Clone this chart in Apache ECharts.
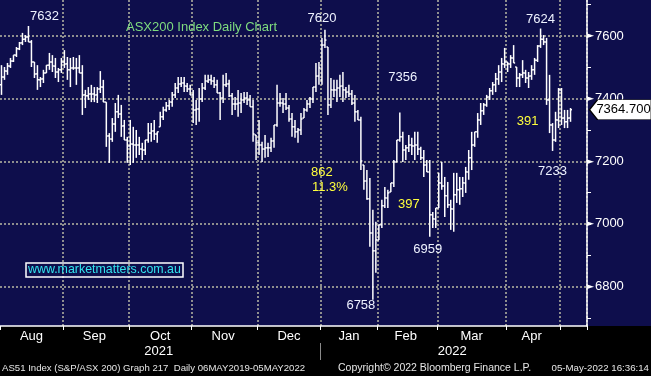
<!DOCTYPE html>
<html>
<head>
<meta charset="utf-8">
<script src="https://cdn.jsdelivr.net/npm/echarts@6/dist/echarts.min.js"></script>
<style>
html,body{margin:0;padding:0;background:#000;}
#chart{width:651px;height:376px;}
</style>
</head>
<body>
<div id="chart"></div>
<script>
// ---- Data (AS51 daily OHLC, Aug 2021 - 5 May 2022) ----
const months = ['Aug','Sep','Oct','Nov','Dec','Jan','Feb','Mar','Apr','May'];
const monthYears = ['2021','2021','2021','2021','2021','2022','2022','2022','2022','2022'];
const monthBars = [21,22,21,22,21,19,20,23,18,4];
const emptySlots = 5;

const opens = [
 7444,7469,7488,7504,7520,7539,7559,7578,7590,7597,7581,7517,7479,7460,7463,7482,7507,7517,7504,7485,7492,
 7517,7511,7492,7498,7498,7498,7482,7412,7409,7415,7415,7412,7431,7437,7389,7281,7271,7319,7358,7351,7313,7268,
 7249,7255,7252,7252,7239,7236,7268,7290,7297,7287,7310,7342,7364,7377,7389,7412,7434,7447,7450,7440,7431,
 7412,7364,7367,7399,7434,7456,7460,7456,7444,7418,7402,7444,7447,7409,7383,7383,7386,7396,7402,7396,7374,7284,
 7259,7252,7239,7243,7243,7265,7316,7386,7386,7383,7370,7335,7310,7294,7300,7338,7364,7383,7399,7437,7472,
 7460,7571,7565,7380,7428,7428,7434,7440,7428,7421,7415,7386,7358,7332,7188,7137,7080,6971,6914,
 6949,6997,7058,7083,7102,7131,7198,7268,7278,7236,7243,7252,7249,7252,7239,7211,7188,7166,7029,7016,
 7051,7131,7121,7090,7061,7048,7093,7109,7112,7131,7166,7211,7252,7294,7332,7361,7380,7405,7425,7444,7463,7485,7511,
 7517,7511,7530,7501,7466,7476,7482,7466,7472,7492,7523,7568,7590,7581,7396,7316,7268,7332,
 7428,7338,7326,7338
];
const highs = [
 7507,7501,7514,7530,7539,7565,7581,7610,7603,7632,7587,7517,7507,7469,7492,7507,7546,7539,7530,7498,7530,
 7555,7533,7530,7533,7530,7539,7507,7428,7437,7444,7437,7437,7488,7460,7389,7290,7338,7386,7412,7380,7332,7278,
 7332,7310,7300,7278,7259,7268,7322,7322,7332,7294,7358,7374,7389,7396,7421,7450,7469,7469,7469,7450,7444,
 7428,7396,7434,7450,7476,7476,7476,7469,7460,7421,7476,7482,7460,7418,7405,7428,7418,7421,7421,7412,7396,7284,
 7332,7262,7284,7259,7275,7316,7444,7418,7402,7418,7380,7354,7332,7306,7354,7370,7396,7405,7437,7514,7517,
 7594,7620,7565,7466,7460,7460,7476,7485,7437,7444,7428,7412,7364,7342,7188,7172,7147,7045,7007,
 6997,7077,7118,7109,7131,7204,7268,7356,7294,7252,7284,7275,7294,7294,7246,7236,7204,7204,7038,7051,
 7163,7198,7150,7134,7077,7163,7163,7150,7150,7182,7236,7294,7294,7354,7386,7386,7412,7434,7453,7482,7507,7530,7562,
 7517,7539,7571,7501,7482,7523,7492,7485,7507,7530,7571,7624,7603,7594,7476,7322,7358,7434,
 7434,7364,7364,7370
];
const lows = [
 7412,7460,7476,7498,7517,7533,7555,7571,7581,7581,7501,7466,7428,7437,7450,7482,7492,7485,7466,7453,7482,
 7498,7460,7437,7492,7444,7482,7348,7370,7396,7389,7389,7386,7418,7389,7246,7195,7262,7294,7338,7278,7268,7195,
 7188,7195,7211,7220,7204,7220,7259,7262,7268,7259,7310,7332,7358,7364,7374,7402,7418,7437,7421,7421,7412,
 7322,7316,7326,7389,7428,7450,7444,7434,7418,7332,7386,7437,7405,7348,7364,7342,7354,7386,7380,7374,7262,7204,
 7220,7198,7211,7214,7230,7243,7310,7374,7354,7364,7326,7278,7275,7259,7284,7338,7358,7370,7386,7421,7444,
 7444,7562,7348,7370,7405,7389,7405,7389,7402,7405,7380,7326,7332,7172,7109,7077,6927,6758,6844,
 6949,6987,7051,7051,7102,7118,7198,7262,7198,7204,7230,7220,7204,7220,7204,7150,7166,6959,6987,6987,
 7051,7109,7022,7051,6981,6975,7067,7061,7086,7099,7141,7172,7246,7275,7316,7348,7374,7396,7412,7421,7444,7453,7498,
 7485,7498,7514,7437,7437,7466,7450,7434,7460,7476,7517,7562,7571,7380,7290,7233,7262,7306,
 7316,7306,7306,7326
];
const closes = [
 7469,7488,7504,7520,7539,7559,7578,7590,7597,7581,7517,7479,7460,7463,7482,7507,7517,7504,7485,7492,7517,
 7511,7492,7498,7498,7498,7482,7412,7409,7415,7415,7412,7431,7437,7389,7281,7271,7319,7358,7351,7313,7268,7249,
 7255,7252,7252,7239,7236,7268,7290,7297,7287,7294,7342,7364,7377,7389,7412,7434,7447,7450,7440,7431,7412,
 7364,7367,7399,7434,7456,7460,7456,7444,7418,7402,7444,7447,7409,7383,7383,7386,7396,7402,7396,7374,7287,7259,
 7252,7239,7243,7243,7265,7316,7386,7386,7383,7370,7335,7310,7294,7300,7335,7364,7383,7399,7437,7472,7498,
 7571,7587,7380,7428,7428,7434,7440,7428,7421,7415,7386,7358,7332,7201,7137,7080,6971,6914,6949,
 6997,7058,7083,7099,7131,7198,7268,7278,7236,7243,7252,7249,7252,7239,7211,7188,7166,7029,7016,7051,
 7131,7121,7090,7061,7048,7093,7109,7112,7131,7166,7211,7252,7294,7332,7361,7380,7405,7425,7444,7463,7485,7511,7517,
 7511,7530,7514,7466,7476,7482,7466,7472,7492,7523,7568,7590,7581,7396,7316,7268,7332,7428,
 7338,7326,7338,7364.7
];
const lastPrice = 7364.7;
const yLabelValues = [6800,7000,7200,7400,7600];
const yTickValues = [6700,6800,6900,7000,7100,7200,7300,7400,7500,7600,7700];

// annotation texts
const annoTexts = ['7632','7620','7624','7356','7233','6959','6758','862','11.3%','397','391'];
const annoBars  = [9,108,180,133,184,143,124,107,110,136,175];
const annoValues= [7632,7620,7624,7356,7233,6959,6758,7166,7118,7061,7326];
const annoYellow= [false,false,false,false,false,false,false,true,true,true,true];
const annoOffsets = [[16,-10],[-3,-11],[0,-9],[3,-35],[0,20],[-2,13],[-12,6],[0,0],[-1,0],[0,0],[2,0]];

// ---- build axes/data from arrays ----
const cats = [], catYears = [], monthStart = new Set(), monthLabelIdx = new Set();
let idx = 0;
months.forEach((m, k) => {
  monthStart.add(idx);
  if (m !== 'May') monthLabelIdx.add(idx + Math.floor((monthBars[k] - 1) / 2));
  for (let j = 0; j < monthBars[k]; j++) { cats.push(m); catYears.push(monthYears[k]); }
  idx += monthBars[k];
});
for (let j = 0; j < emptySlots; j++) { cats.push(''); catYears.push(monthYears[monthYears.length-1]); }
const N = cats.length;
const yearBoundaries = catYears.concat([catYears[N-1]]);
const yearStart = yearBoundaries.indexOf('2022');
const yearLabelIdx = new Set([Math.floor(yearStart / 2), Math.floor((yearStart + N) / 2)]);

const ohlc = opens.map((o, i) => [i, o, highs[i], lows[i], closes[i]]);

const FONT = 'Liberation Sans, Arial, sans-serif';
const NAVY = '#0e0e4c';
const GRID = '#8e8e8e';

function renderItem(params, api) {
  const i = api.value(0);
  const o = api.coord([i, api.value(1)]);
  const h = api.coord([i, api.value(2)]);
  const l = api.coord([i, api.value(3)]);
  const c = api.coord([i, api.value(4)]);
  const half = api.size([1, 0])[0] / 2;
  const x = o[0];
  const style = { stroke: '#ffffff', lineWidth: 1.5 };
  return { type: 'group', children: [
    { type: 'line', shape: { x1: x, y1: h[1], x2: x, y2: l[1] }, style },
    { type: 'line', shape: { x1: x - half, y1: o[1], x2: x, y2: o[1] }, style },
    { type: 'line', shape: { x1: x, y1: c[1], x2: x + half, y2: c[1] }, style }
  ]};
}

const annoData = annoTexts.map((t, k) => ({
  coord: [annoBars[k], annoValues[k]],
  symbol: 'circle', symbolSize: 1,
  itemStyle: { color: 'rgba(0,0,0,0)' },
  label: {
    show: true, position: 'inside', offset: annoOffsets[k], formatter: t,
    color: annoYellow[k] ? '#ffff3c' : '#eef2ff', fontSize: 13, fontFamily: FONT
  }
}));
annoData.push({
  coord: [N - 1, lastPrice],
  symbol: 'path://M0,10 L8,0 L62,0 L62,20 L8,20 Z',
  symbolSize: [62, 20], symbolKeepAspect: false, symbolOffset: [35, 0],
  itemStyle: { color: '#ffffff', borderColor: '#000000', borderWidth: 1 },
  label: { show: true, position: 'inside', offset: [3, 0], formatter: lastPrice.toFixed(3),
    color: '#000', fontSize: 13, fontFamily: FONT }
});

const chart = echarts.init(document.getElementById('chart'), null, { renderer: 'canvas' });
chart.setOption({
  animation: false,
  backgroundColor: new echarts.graphic.LinearGradient(0, 0, 0, 1, [
    { offset: 0, color: NAVY }, { offset: 326/376, color: NAVY },
    { offset: 326/376, color: '#000' }, { offset: 1, color: '#000' }
  ]),
  textStyle: { fontFamily: FONT },
  title: [
    { text: 'ASX200 Index Daily Chart', left: 126, top: 21, padding: 0,
      textStyle: { color: '#7fdc7f', fontSize: 13, fontWeight: 'normal', fontFamily: FONT } },
    { text: 'www.marketmatters.com.au', left: 26, top: 263, padding: [1, 2, 1, 2],
      borderColor: '#ffffff', borderWidth: 1.5,
      textStyle: { color: '#32e4ee', fontSize: 12.4, fontWeight: 'normal', fontFamily: FONT } },
    { text: 'AS51 Index (S&P/ASX 200) Graph 217  Daily 06MAY2019-05MAY2022', left: 2, top: 363, padding: 0,
      textStyle: { color: '#e6e6e6', fontSize: 9.6, fontWeight: 'normal', fontFamily: FONT } },
    { text: 'Copyright\u00a9 2022 Bloomberg Finance L.P.', left: 338, top: 363, padding: 0,
      textStyle: { color: '#e6e6e6', fontSize: 10.5, fontWeight: 'normal', fontFamily: FONT } },
    { text: '05-May-2022 16:36:14', right: 2, top: 363, padding: 0,
      textStyle: { color: '#e6e6e6', fontSize: 9.7, fontWeight: 'normal', fontFamily: FONT } }
  ],
  grid: { left: 0, right: 64, top: 0, bottom: 50, containLabel: false },
  xAxis: [
    {
      type: 'category', data: cats, boundaryGap: true,
      axisLine: { show: true, lineStyle: { color: '#ffffff', width: 1.5 } },
      axisTick: { show: true, interval: (i) => monthStart.has(i), length: 4, lineStyle: { color: '#ffffff' } },
      axisLabel: { show: true, interval: (i) => monthLabelIdx.has(i), color: '#ffffff', fontSize: 13, margin: 4, fontFamily: FONT },
      splitLine: { show: true, interval: (i) => monthStart.has(i) && i > 0,
        lineStyle: { color: GRID, type: [2, 2], width: 2 } }
    },
    {
      type: 'category', data: yearBoundaries, boundaryGap: false, position: 'bottom', offset: 17,
      axisLine: { show: false },
      axisTick: { show: true, interval: (i) => i === yearStart, length: 17, lineStyle: { color: '#8a8a8a', width: 1 } },
      axisLabel: { show: true, interval: (i) => yearLabelIdx.has(i), color: '#ffffff', fontSize: 13, margin: 2, fontFamily: FONT },
      splitLine: { show: false }
    }
  ],
  yAxis: {
    type: 'value', position: 'right', min: 6674, max: 7715,
    axisLine: { show: true, lineStyle: { color: '#ffffff', width: 1.5 } },
    axisTick: { show: true, customValues: yTickValues, length: 4, lineStyle: { color: '#ffffff' } },
    axisLabel: {
      show: true, customValues: yLabelValues, margin: 0,
      formatter: (v) => '{t|\u25BA}{v|' + v + '}',
      rich: {
        t: { color: '#ffffff', fontSize: 9, padding: [0, 1, 0, 0], fontFamily: 'DejaVu Sans' },
        v: { color: '#ffffff', fontSize: 13, fontFamily: FONT }
      }
    },
    splitLine: { show: false }
  },
  series: [
    {
      type: 'custom', xAxisIndex: 0, yAxisIndex: 0, renderItem, data: ohlc,
      encode: { x: 0, y: [1, 2, 3, 4] }, clip: true, z: 3,
      markLine: {
        silent: true, symbol: ['none', 'none'], label: { show: false }, z: 1,
        lineStyle: { color: GRID, type: [2, 2], width: 2 },
        data: yLabelValues.map(v => ({ yAxis: v }))
      },
      markPoint: { silent: true, data: annoData, z: 5 }
    }
  ]
});
</script>
</body>
</html>
